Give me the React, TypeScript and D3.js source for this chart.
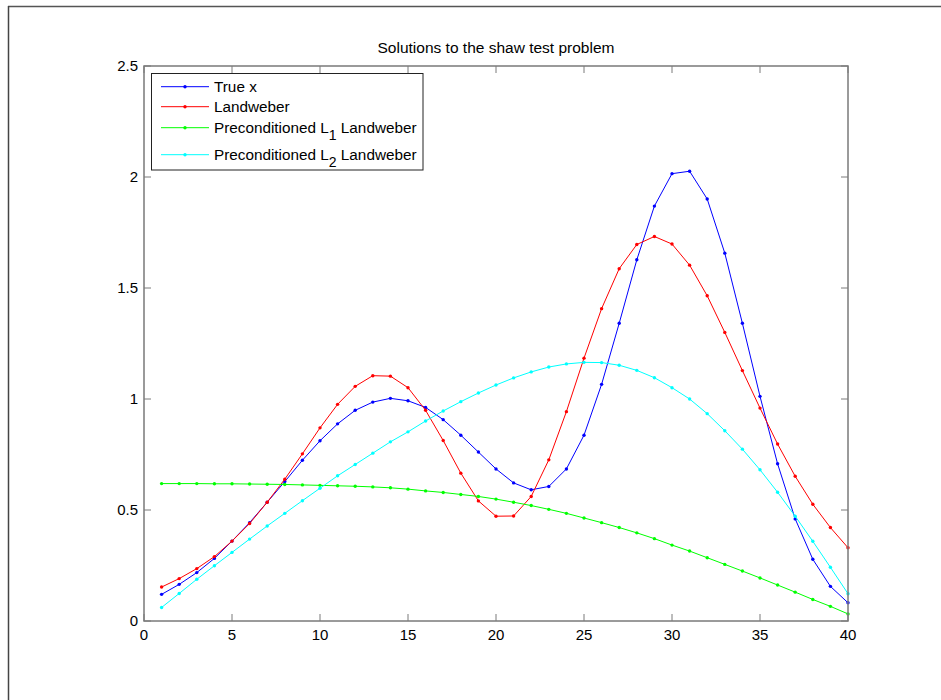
import React from "react";
import * as d3 from "d3";

const xIndex = d3.range(1, 41);

const trueX = [0.12,0.165,0.218,0.282,0.36,0.443,0.535,0.628,0.724,0.812,0.888,0.949,0.986,1.003,0.992,0.962,0.907,0.837,0.761,0.685,0.622,0.591,0.606,0.685,0.837,1.066,1.341,1.627,1.869,2.015,2.026,1.901,1.657,1.341,1.012,0.708,0.46,0.278,0.156,0.082];
const landweber = [0.153,0.191,0.236,0.29,0.36,0.439,0.535,0.639,0.753,0.87,0.976,1.057,1.105,1.103,1.051,0.949,0.813,0.666,0.541,0.472,0.473,0.561,0.726,0.943,1.184,1.407,1.587,1.696,1.732,1.698,1.603,1.465,1.3,1.128,0.959,0.797,0.652,0.526,0.421,0.33];
const precondL1 = [0.619,0.619,0.619,0.618,0.618,0.617,0.616,0.615,0.613,0.611,0.609,0.607,0.604,0.6,0.594,0.586,0.579,0.57,0.561,0.549,0.535,0.52,0.503,0.485,0.464,0.443,0.421,0.397,0.371,0.342,0.315,0.285,0.255,0.225,0.194,0.162,0.13,0.097,0.066,0.032];
const precondL2 = [0.061,0.124,0.188,0.249,0.309,0.369,0.428,0.485,0.542,0.598,0.654,0.705,0.756,0.807,0.852,0.901,0.946,0.988,1.027,1.063,1.095,1.122,1.144,1.158,1.165,1.164,1.152,1.129,1.096,1.051,1.0,0.934,0.857,0.774,0.681,0.58,0.472,0.359,0.242,0.123];

const xTicks = [0, 5, 10, 15, 20, 25, 30, 35, 40];
const yTicks = [0, 0.5, 1, 1.5, 2, 2.5];
const yTickLabels = ["0", "0.5", "1", "1.5", "2", "2.5"];

const seriesNames = ["True x", "Landweber", "Preconditioned L", "Preconditioned L"];
const seriesSubs = ["", "", "1", "2"];
const seriesColors = ["#0000ff", "#ff0000", "#00ff00", "#00ffff"];
const seriesValues = [trueX, landweber, precondL1, precondL2];

const title = "Solutions to the shaw test problem";

export default function App() {
  const W = 941, H = 700;
  const left = 144, right = 848, top = 66, bottom = 621;
  const x = d3.scaleLinear().domain([0, 40]).range([left, right]);
  const y = d3.scaleLinear().domain([0, 2.5]).range([bottom, top]);
  const line = d3.line<[number, number]>().x(d => x(d[0])).y(d => y(d[1]));
  const font = "'Liberation Sans', Arial, Helvetica, sans-serif";
  const axisColor = "#7a7a7a";
  const tickLen = 7;

  const legendRowsY = [86.7, 106.7, 127.7, 154.7];

  return (
    <svg width={W} height={H} style={{ position: "absolute", left: 0, top: 0, background: "#fff" }} fontFamily={font}>
      <rect x={0} y={0} width={W} height={H} fill="#fff" />
      {/* figure frame */}
      <line x1={8} y1={6.5} x2={W} y2={6.5} stroke="#555" strokeWidth={1.5} />
      <line x1={8.5} y1={6} x2={8.5} y2={H} stroke="#444" strokeWidth={1.5} />

      {/* title */}
      <text x={(left + right) / 2} y={53} textAnchor="middle" fontSize={15.5} fill="#000">{title}</text>

      {/* series */}
      {seriesValues.map((vals, si) => {
        const pts: [number, number][] = vals.map((v, i) => [xIndex[i], v]);
        return (
          <g key={si}>
            <path d={line(pts) || ""} fill="none" stroke={seriesColors[si]} strokeWidth={1} />
            {pts.map((p, i) => (
              <circle key={i} cx={x(p[0])} cy={y(p[1])} r={1.7} fill={seriesColors[si]} />
            ))}
          </g>
        );
      })}

      {/* axes box */}
      <rect x={left} y={top} width={right - left} height={bottom - top} fill="none" stroke={axisColor} strokeWidth={1.5} />
      {xTicks.map(t => (
        <g key={"xt" + t}>
          <line x1={x(t)} x2={x(t)} y1={bottom} y2={bottom - tickLen} stroke={axisColor} strokeWidth={1} />
          <line x1={x(t)} x2={x(t)} y1={top} y2={top + tickLen} stroke={axisColor} strokeWidth={1} />
          <text x={x(t)} y={640} textAnchor="middle" fontSize={15} fill="#000">{String(t)}</text>
        </g>
      ))}
      {yTicks.map((t, i) => (
        <g key={"yt" + t}>
          <line x1={left} x2={left + tickLen} y1={y(t)} y2={y(t)} stroke={axisColor} strokeWidth={1} />
          <line x1={right} x2={right - tickLen} y1={y(t)} y2={y(t)} stroke={axisColor} strokeWidth={1} />
          <text x={138} y={y(t)} dy="0.36em" textAnchor="end" fontSize={15} fill="#000">{yTickLabels[i]}</text>
        </g>
      ))}

      {/* legend */}
      <rect x={151.5} y={73.5} width={271.5} height={96.5} fill="#fff" stroke="#222" strokeWidth={1} />
      {seriesNames.map((name, i) => (
        <g key={"lg" + i}>
          <line x1={161} x2={209} y1={legendRowsY[i]} y2={legendRowsY[i]} stroke={seriesColors[i]} strokeWidth={1} />
          <circle cx={185} cy={legendRowsY[i]} r={1.7} fill={seriesColors[i]} />
          <text x={214} y={legendRowsY[i] + 5.3} fontSize={15.3} fill="#000">
            {name}
            {seriesSubs[i] ? (
              <>
                <tspan dy={7} fontSize={14}>{seriesSubs[i]}</tspan>
                <tspan dy={-7}> Landweber</tspan>
              </>
            ) : null}
          </text>
        </g>
      ))}
    </svg>
  );
}
